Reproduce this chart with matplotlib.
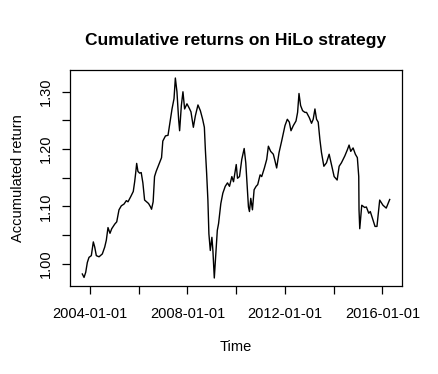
import matplotlib
matplotlib.use("Agg")
import matplotlib.pyplot as plt
import pandas as pd

plt.rcParams['font.family'] = ['Liberation Sans', 'DejaVu Sans']

# cumulative return series
dates = [
    "2003-09-07", "2003-10-03", "2003-10-28", "2003-11-21", "2003-12-16", "2004-01-20",
    "2004-02-19", "2004-03-11", "2004-04-04", "2004-05-15", "2004-07-03", "2004-08-08",
    "2004-09-01", "2004-09-26", "2004-10-26", "2004-11-21", "2005-01-05", "2005-02-04",
    "2005-03-10", "2005-04-14", "2005-05-24", "2005-06-28", "2005-07-23", "2005-09-02",
    "2005-10-10", "2005-10-31", "2005-11-15", "2005-11-30", "2005-12-19", "2006-01-13",
    "2006-02-06", "2006-03-03", "2006-03-29", "2006-04-28", "2006-05-27", "2006-06-26",
    "2006-07-11", "2006-08-04", "2006-08-25", "2006-09-18", "2006-10-18", "2006-12-08",
    "2006-12-27", "2007-02-05", "2007-03-15", "2007-04-20", "2007-05-14", "2007-06-13",
    "2007-07-03", "2007-07-27", "2007-08-21", "2007-09-05", "2007-10-01", "2007-10-25",
    "2007-11-19", "2007-12-24", "2008-01-29", "2008-02-22", "2008-03-29", "2008-04-28",
    "2008-06-06", "2008-07-12", "2008-08-15", "2008-09-10", "2008-09-25", "2008-10-14",
    "2008-11-02", "2008-11-17", "2008-12-08", "2009-01-01", "2009-01-16", "2009-02-06",
    "2009-02-25", "2009-03-23", "2009-04-11", "2009-05-15", "2009-06-14", "2009-07-20",
    "2009-08-23", "2009-09-22", "2009-10-27", "2009-11-21", "2010-01-01", "2010-01-20",
    "2010-02-19", "2010-03-25", "2010-04-30", "2010-05-24", "2010-06-08", "2010-07-03",
    "2010-07-18", "2010-08-07", "2010-09-01", "2010-09-26", "2010-10-26", "2010-11-19",
    "2010-12-25", "2011-01-18", "2011-02-27", "2011-04-03", "2011-04-28", "2011-06-01",
    "2011-07-11", "2011-08-06", "2011-08-30", "2011-10-05", "2011-11-13", "2012-01-02",
    "2012-02-06", "2012-03-07", "2012-04-01", "2012-05-06", "2012-06-15", "2012-07-09",
    "2012-07-30", "2012-08-23", "2012-09-22", "2012-10-27", "2012-11-20", "2012-12-31",
    "2013-02-03", "2013-02-28", "2013-03-26", "2013-04-19", "2013-05-14", "2013-06-08",
    "2013-07-02", "2013-08-07", "2013-09-15", "2013-10-25", "2013-11-28", "2014-01-08",
    "2014-02-22", "2014-03-24", "2014-04-27", "2014-06-17", "2014-07-26", "2014-08-20",
    "2014-09-14", "2014-10-19", "2014-11-22", "2014-12-22", "2015-01-12", "2015-01-16",
    "2015-01-27", "2015-02-26", "2015-04-12", "2015-05-06", "2015-06-11", "2015-07-04",
    "2015-08-14", "2015-09-13", "2015-10-12", "2015-11-22", "2016-01-10", "2016-02-28",
    "2016-04-20",
]
returns = [
    0.982, 0.976, 0.985, 1.002, 1.011, 1.014,
    1.038, 1.029, 1.014, 1.012, 1.017, 1.029,
    1.041, 1.063, 1.053, 1.061, 1.069, 1.073,
    1.094, 1.101, 1.104, 1.110, 1.108, 1.117,
    1.126, 1.143, 1.158, 1.175, 1.161, 1.158,
    1.159, 1.141, 1.111, 1.108, 1.105, 1.099,
    1.095, 1.108, 1.152, 1.161, 1.170, 1.185,
    1.214, 1.223, 1.224, 1.252, 1.270, 1.288,
    1.324, 1.300, 1.252, 1.232, 1.276, 1.300,
    1.270, 1.279, 1.271, 1.265, 1.238, 1.258,
    1.277, 1.267, 1.252, 1.238, 1.199, 1.158,
    1.111, 1.052, 1.023, 1.046, 1.023, 0.975,
    1.011, 1.058, 1.070, 1.105, 1.123, 1.135,
    1.141, 1.135, 1.152, 1.143, 1.173, 1.149,
    1.152, 1.182, 1.201, 1.176, 1.146, 1.099,
    1.091, 1.114, 1.094, 1.129, 1.135, 1.138,
    1.155, 1.152, 1.167, 1.182, 1.205, 1.196,
    1.191, 1.179, 1.167, 1.194, 1.214, 1.241,
    1.252, 1.247, 1.232, 1.241, 1.249, 1.264,
    1.297, 1.276, 1.267, 1.264, 1.264, 1.255,
    1.245, 1.252, 1.270, 1.252, 1.247, 1.217,
    1.194, 1.170, 1.176, 1.191, 1.173, 1.152,
    1.146, 1.170, 1.176, 1.188, 1.199, 1.207,
    1.196, 1.202, 1.191, 1.185, 1.152, 1.094,
    1.061, 1.102, 1.098, 1.099, 1.088, 1.091,
    1.076, 1.065, 1.065, 1.111, 1.102, 1.097,
    1.112,
]

x_tick_years = [2004, 2006, 2008, 2010, 2012, 2014, 2016]
x_label_years = [2004, 2008, 2012, 2016]
y_ticks = [1.00, 1.05, 1.10, 1.15, 1.20, 1.25, 1.30]
y_labels = ["1.00", "", "1.10", "", "1.20", "", "1.30"]

t = pd.to_datetime(dates)

fig = plt.figure(figsize=(4.39, 3.74), dpi=100)
ax = fig.add_axes([0.1595, 0.2353, 0.7562, 0.5775])

ax.plot(t, returns, color='black', lw=1.0)
ax.margins(x=0.04, y=0.04)

xt = [pd.Timestamp(f"{y}-01-01") for y in x_tick_years]
ax.set_xticks(xt)
ax.set_xticklabels([f"{y}-01-01" if y in x_label_years else "" for y in x_tick_years])
ax.set_yticks(y_ticks)
ax.set_yticklabels(y_labels, rotation=90, va='center')

for s in ax.spines.values():
    s.set_linewidth(0.9)
ax.tick_params(direction='out', length=6, width=0.9, labelsize=10.5, colors='black')
ax.tick_params(axis='x', pad=9)
ax.tick_params(axis='y', pad=6)

ax.set_title("Cumulative returns on HiLo strategy", fontsize=12.5, fontweight='bold', pad=18)
ax.set_xlabel("Time", fontsize=10.5, labelpad=14)
ax.set_ylabel("Accumulated return", fontsize=10.5, labelpad=10)

fig.savefig("out.png", dpi=100, facecolor='white')
